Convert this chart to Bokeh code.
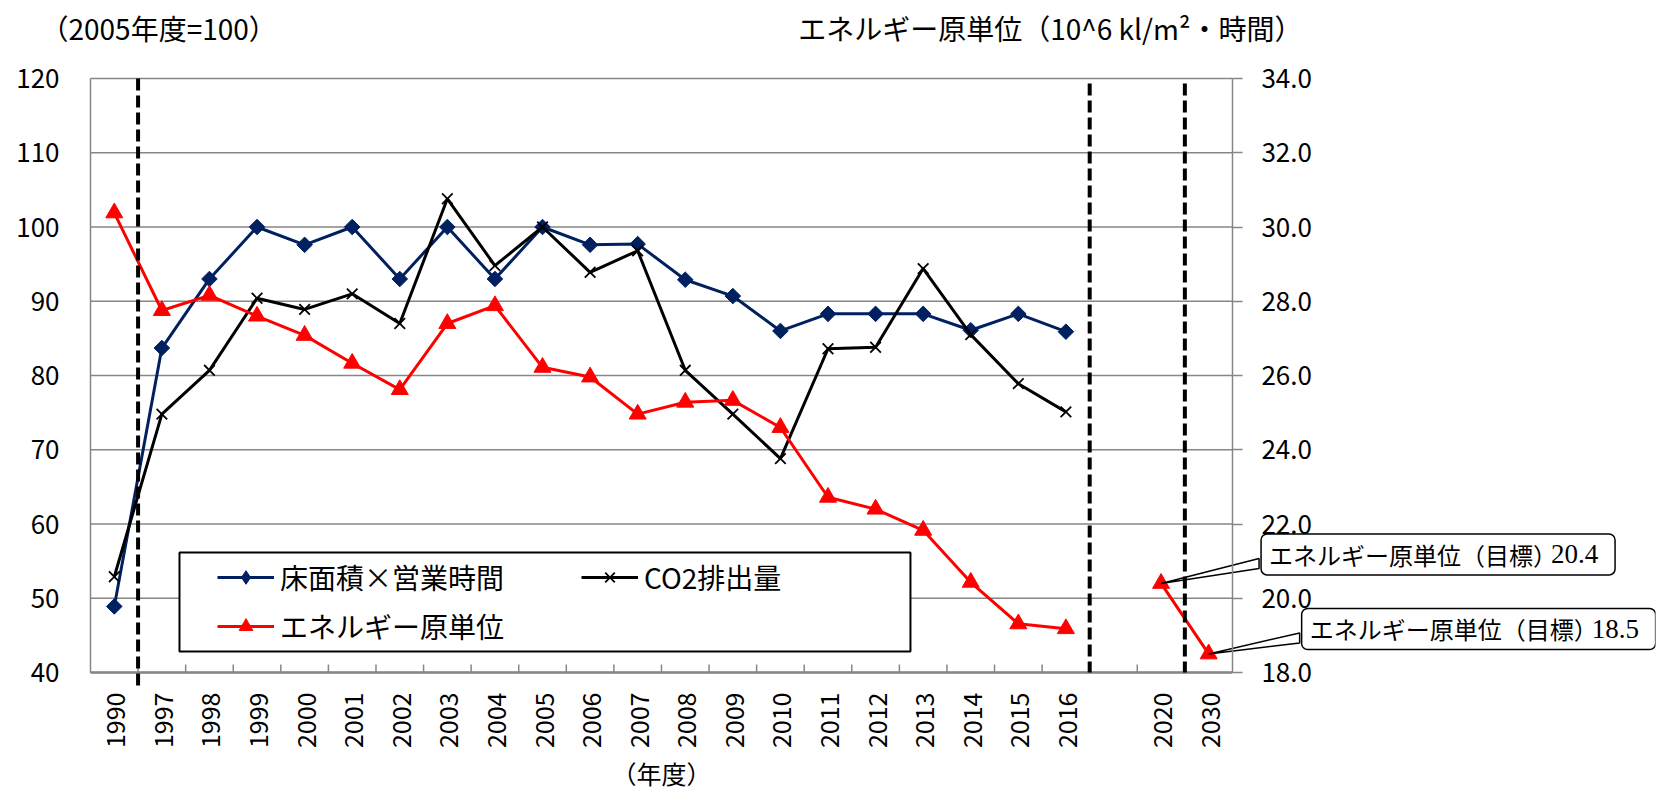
import math
from bokeh.plotting import figure
from bokeh.models import (FactorRange, Range1d, LinearAxis, FixedTicker, NumeralTickFormatter,
                          Legend, LegendItem, Label, BoxAnnotation, Arrow)
from bokeh.embed import file_html
from bokeh.resources import INLINE

# ---------------- data ----------------
categories = ["1990", "1997", "1998", "1999", "2000", "2001", "2002", "2003", "2004", "2005",
              "2006", "2007", "2008", "2009", "2010", "2011", "2012", "2013", "2014", "2015",
              "2016", " ", "2020", "2030"]
hist_years = categories[:21]
floor_x_hours = [48.9, 83.7, 93.0, 100.0, 97.6, 100.0, 93.0, 100.0, 93.0, 100.0,
                 97.6, 97.7, 92.9, 90.7, 86.0, 88.3, 88.3, 88.3, 86.1, 88.3, 85.9]
co2_emissions = [52.9, 74.8, 80.7, 90.4, 88.9, 91.0, 87.0, 103.8, 94.8, 100.0,
                 93.9, 96.8, 80.7, 74.8, 68.8, 83.6, 83.8, 94.4, 85.5, 78.9, 75.1]
energy_intensity = [30.38, 27.75, 28.16, 27.60, 27.08, 26.33, 25.62, 27.40, 27.88, 26.22,
                    25.96, 24.96, 25.28, 25.33, 24.60, 22.72, 22.40, 21.83, 20.43, 19.31, 19.18]
target_years = ["2020", "2030"]
target_values = [20.4, 18.5]
left_ticks = [40, 50, 60, 70, 80, 90, 100, 110, 120]
right_ticks = [18, 20, 22, 24, 26, 28, 30, 32, 34]
divider_after = ["1990", "2016", "2020"]   # dashed separators follow these categories

series_names = ["床面積×営業時間", "CO2排出量", "エネルギー原単位"]
left_title = "（2005年度=100）"
right_title = "エネルギー原単位（10^6 kl/m²・時間）"
x_title = "（年度）"
target_label = "エネルギー原単位（目標）"

# ---------------- styling / layout ----------------
JP = "Noto Sans CJK JP"
NAVY = "#002060"
RED = "#FF0000"
GRAY = "#868686"
W, H = 1664, 790
X0, X1, Y0, Y1 = 90, 1232, 78, 672          # pixel box of the data area
LMIN, LMAX = left_ticks[0], left_ticks[-1]
RMIN, RMAX = right_ticks[0], right_ticks[-1]
NCAT = len(categories)
U = (X1 - X0) / NCAT                         # px per category
PADU = X0 / U                                # left padding in category units
n_pad = int((W - X0) / U - NCAT - PADU)
FWID = round((NCAT + n_pad + 2 * PADU) * U)
PX_L = (Y1 - Y0) / (LMAX - LMIN)
PX_R = (Y1 - Y0) / (RMAX - RMIN)
factors = categories + [" " * (k + 2) for k in range(n_pad)]


def cx(px):      # window x pixel -> synthetic categorical coordinate
    return (px - X0) / U


def ly(py):      # window y pixel -> left-axis value
    return LMIN + (Y1 - py) / PX_L


def ry(py):      # window y pixel -> right-axis value
    return RMIN + (Y1 - py) / PX_R


p = figure(width=W, height=H,
           x_range=FactorRange(factors=factors, range_padding=PADU, range_padding_units="absolute"),
           y_range=Range1d(ly(H), ly(0)), output_backend="svg", toolbar_location=None,
           title=None, min_border_left=0, min_border_right=W - FWID,
           min_border_top=0, min_border_bottom=0)
p.extra_y_ranges = {"right": Range1d(ry(H), ry(0))}
p.background_fill_color = "white"
p.border_fill_color = "white"
p.outline_line_color = None
p.xgrid.visible = False
p.ygrid.visible = False

# grid lines limited to the data area
p.segment(x0=[0] * len(left_ticks), x1=[NCAT] * len(left_ticks), y0=left_ticks, y1=left_ticks,
          line_color=GRAY, line_width=1.5)

# left axis
p.yaxis.fixed_location = 0
p.yaxis.bounds = (LMIN, LMAX)
p.yaxis.ticker = FixedTicker(ticks=left_ticks)
p.yaxis.major_tick_out = 0
p.yaxis.major_tick_in = 0
p.yaxis.minor_tick_line_color = None
p.yaxis.axis_line_color = GRAY
p.yaxis.axis_line_width = 1.5
p.yaxis.major_label_text_font = JP
p.yaxis.major_label_text_font_size = "26px"
p.yaxis.major_label_text_color = "black"
p.yaxis.major_label_standoff = 31

# right axis
ra = LinearAxis(y_range_name="right", ticker=FixedTicker(ticks=right_ticks),
                formatter=NumeralTickFormatter(format="0.0"),
                fixed_location=NCAT, bounds=(RMIN, RMAX))
ra.major_tick_out = 10
ra.major_tick_in = 0
ra.major_tick_line_color = GRAY
ra.major_tick_line_width = 1.5
ra.minor_tick_line_color = None
ra.axis_line_color = GRAY
ra.axis_line_width = 1.5
ra.major_label_text_font = JP
ra.major_label_text_font_size = "26px"
ra.major_label_text_color = "black"
ra.major_label_standoff = 19
p.add_layout(ra, "right")

# x axis
p.xaxis.fixed_location = LMIN
p.xaxis.major_label_orientation = math.pi / 2
p.xaxis.major_tick_out = 0
p.xaxis.major_tick_in = 0
p.xaxis.major_tick_line_color = None
p.xaxis.axis_line_color = None
p.xaxis.major_label_text_font = JP
p.xaxis.major_label_text_font_size = "25px"
p.xaxis.major_label_text_color = "black"
p.xaxis.major_label_standoff = 20
p.segment(x0=[0], x1=[NCAT], y0=[LMIN], y1=[LMIN], line_color=GRAY, line_width=2.5)

# category boundary ticks (inside)
bounds = list(range(1, NCAT))
p.segment(x0=bounds, x1=bounds, y0=[LMIN] * len(bounds),
          y1=[LMIN + 8 / PX_L] * len(bounds), line_color=GRAY, line_width=1.5)

# ---------------- series ----------------
bl = p.line(hist_years, floor_x_hours, line_color=NAVY, line_width=3)
p.scatter(hist_years, floor_x_hours, marker="square", angle=math.pi / 4, size=11,
          fill_color=NAVY, line_color=NAVY)
# legend swatch (size 0 in the plot; the legend draws it at its own size)
bs = p.scatter(hist_years, floor_x_hours, marker="diamond", size=0,
               fill_color=NAVY, line_color=NAVY)
kl = p.line(hist_years, co2_emissions, line_color="black", line_width=3)
ks = p.scatter(hist_years, co2_emissions, marker="x", size=15, line_color="black", line_width=1.8)

red_x = hist_years + [" "] + target_years
red_y = energy_intensity + [float("nan")] + target_values
rl = p.line(red_x, red_y, line_color=RED, line_width=3, y_range_name="right")
rs = p.scatter(red_x, red_y, marker="triangle", size=17, fill_color=RED, line_color=RED,
               y_range_name="right")

# dashed separators
for i, cat in enumerate(divider_after):
    xb = categories.index(cat) + 1
    ya = LMAX if i == 0 else LMAX - 5 / PX_L
    yb = LMIN - 15 / PX_L if i == 0 else LMIN
    p.add_layout(Arrow(x_start=xb, y_start=ya, x_end=xb, y_end=yb, end=None,
                       line_color="black", line_width=4, line_dash="12 5"))

# ---------------- legend ----------------
p.add_layout(BoxAnnotation(left=cx(179), right=cx(910), top=ly(552), bottom=ly(651),
                           fill_color="white", fill_alpha=1.0,
                           line_color="black", line_width=2, line_alpha=1.0))
legend = Legend(items=[LegendItem(label=series_names[0], renderers=[bl, bs]),
                       LegendItem(label=series_names[1], renderers=[kl, ks]),
                       LegendItem(label=series_names[2], renderers=[rl, rs])],
                location=(217, H - 646), orientation="horizontal", ncols=2,
                border_line_color=None, background_fill_alpha=0.0,
                padding=0, margin=0, spacing=9,
                glyph_width=57, glyph_height=34, label_height=34, label_width=292,
                label_standoff=6, label_text_font=JP, label_text_font_size="28px",
                label_text_color="black")
p.add_layout(legend, "center")

# ---------------- callouts ----------------
callout_dx = [92, 85]
callout_dy = [29, 25]
for yr, val, dx, dy in zip(target_years, target_values, callout_dx, callout_dy):
    xc = categories.index(yr) + 0.5
    p.patch([xc, xc + (dx + 6) / U, xc + (dx + 6) / U],
            [val, val + (dy - 4) / PX_R, val + (dy - 14) / PX_R],
            y_range_name="right", fill_color="white", line_color="black", line_width=1.5)
    p.add_layout(Label(x=xc, y=val, y_range_name="right", x_offset=dx + 8, y_offset=dy,
                       text=target_label, text_font=JP, text_font_size="24px",
                       text_color="black", text_align="left", text_baseline="middle",
                       border_line_color="black", border_line_width=1.5,
                       background_fill_color="white", background_fill_alpha=1.0,
                       padding=dict(left=8, right=58, top=3, bottom=3), border_radius=6))
    p.add_layout(Label(x=xc, y=val, y_range_name="right", x_offset=dx + 298, y_offset=dy,
                       text=f"{val:.1f}", text_font="Liberation Serif", text_font_size="27px",
                       text_color="black", text_align="left", text_baseline="middle"))

# ---------------- titles ----------------
p.add_layout(Label(x=cx(40), y=ly(27), text=left_title, text_font=JP, text_font_size="28px",
                   text_color="black", text_align="left", text_baseline="middle"))
p.add_layout(Label(x=cx(1302), y=ly(27), text=right_title, text_font=JP, text_font_size="28px",
                   text_color="black", text_align="right", text_baseline="middle"))
p.add_layout(Label(x=cx(661), y=ly(772), text=x_title, text_font=JP, text_font_size="25px",
                   text_color="black", text_align="center", text_baseline="middle"))

open("out.html", "w").write(file_html(p, INLINE))
